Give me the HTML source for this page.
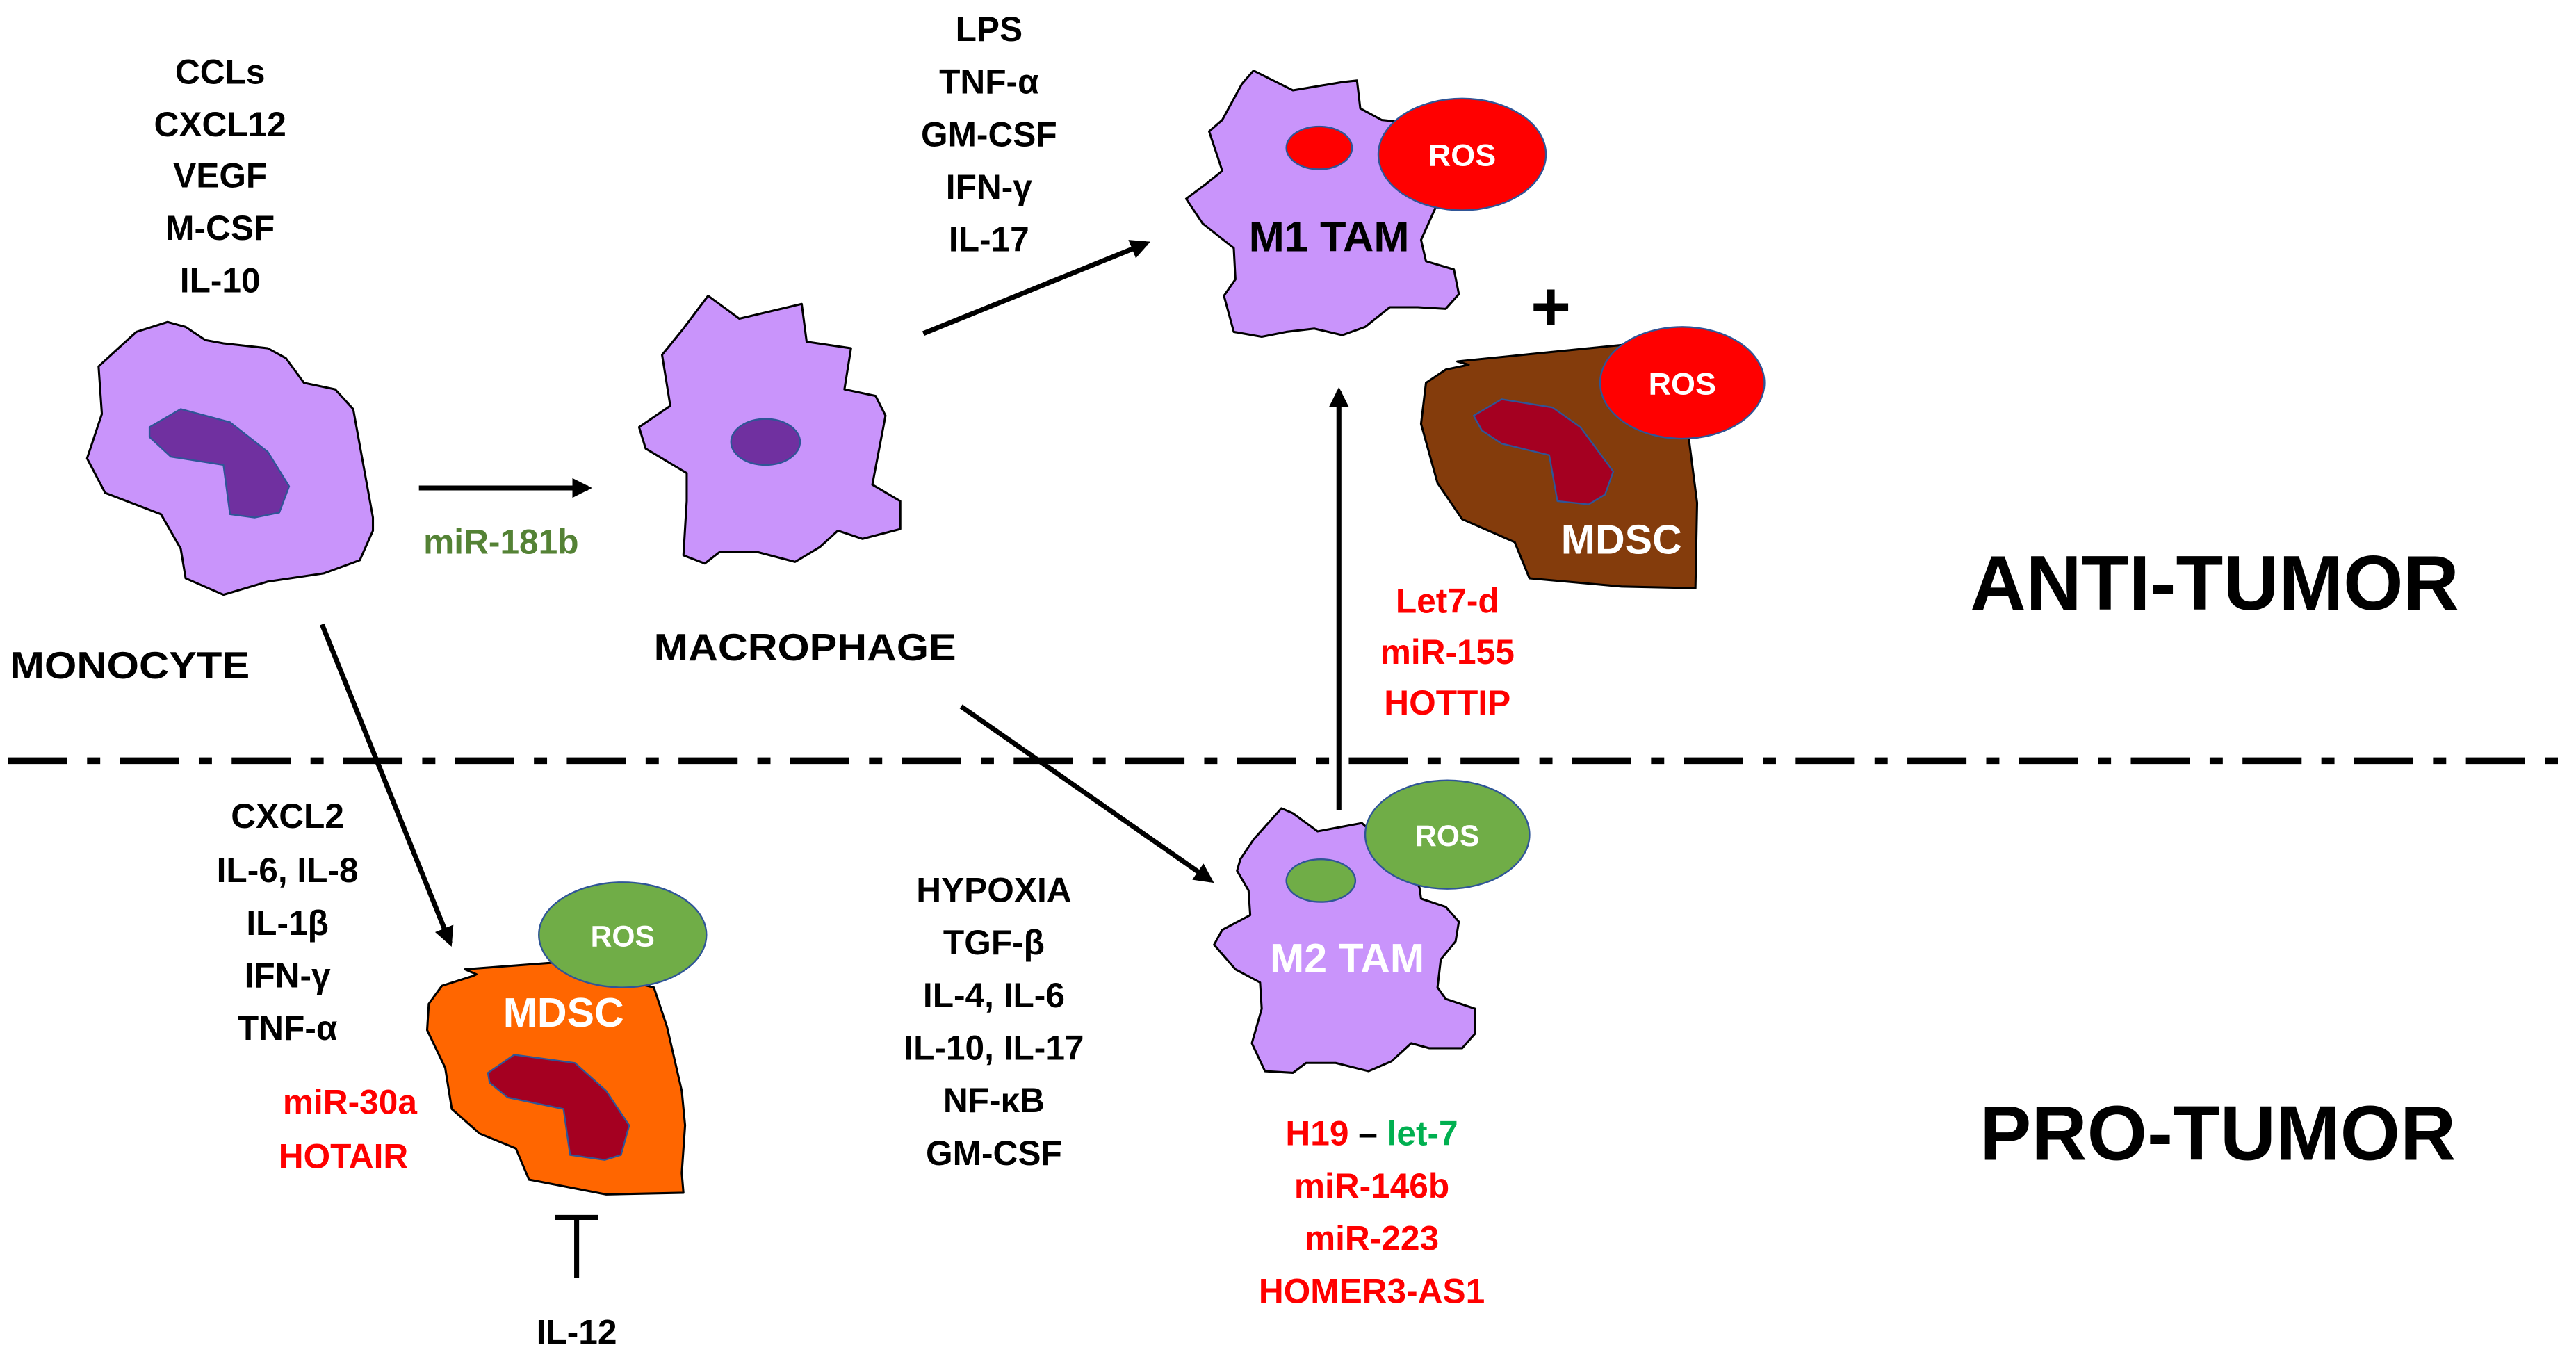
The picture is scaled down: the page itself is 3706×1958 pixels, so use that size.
<!DOCTYPE html>
<html><head><meta charset="utf-8"><style>
html,body{margin:0;padding:0;background:#fff;}
svg{display:block;}
text{font-family:"Liberation Sans",sans-serif;font-weight:bold;text-anchor:middle;}
</style></head><body>
<svg width="3706" height="1958" viewBox="0 0 1568 828.4" preserveAspectRatio="none" xmlns="http://www.w3.org/2000/svg">
<defs><marker id="ah" viewBox="0 0 10 10" refX="8" refY="5" markerWidth="4" markerHeight="4" orient="auto"><path d="M0,0 L10,5 L0,10 z" fill="#000"/></marker></defs>
<rect width="1568" height="829" fill="#fff"/>
<g stroke-linejoin="round">
<!-- Monocyte -->
<path d="M102,196 L113,199 L125,207 L136,209 L163,212 L174,218 L185,233 L204,237 L215,249 L227,315 L227,323 L219,341 L197,349 L163,354 L136,362 L113,352 L110,334 L98,313 L64,300 L53,279 L62,252 L60,223 L83,202 Z" fill="#c994fb" stroke="#000" stroke-width="1.3"/>
<path d="M91,260 L110,249 L140,257 L163,275 L176,296 L170,312 L155,315 L140,313 L136,283 L104,278 L91,266 Z" fill="#7030a0" stroke="#2f5597" stroke-width="1"/>
<!-- Macrophage -->
<path d="M431,180 L450,194 L488,185 L491,208 L518,212 L514,237 L533,241 L539,253 L531,295 L548,305 L548,322 L525,328 L510,323 L499,333 L484,342 L461,336 L438,336 L429,343 L416,338 L418,305 L418,288 L393,273 L389,260 L408,247 L403,216 L416,200 Z" fill="#c994fb" stroke="#000" stroke-width="1.3"/>
<ellipse cx="466" cy="269" rx="21" ry="14" fill="#7030a0" stroke="#2f5597" stroke-width="1"/>
</g>
<!-- Text lists -->
<g font-size="21" fill="#000">
<text x="134" y="51">CCLs</text><text x="134" y="83">CXCL12</text><text x="134" y="114">VEGF</text><text x="134" y="146">M-CSF</text><text x="134" y="178">IL-10</text>
<text x="602" y="25">LPS</text><text x="602" y="57">TNF-α</text><text x="602" y="89">GM-CSF</text><text x="602" y="121">IFN-γ</text><text x="602" y="153">IL-17</text>
<text x="79" y="413" textLength="146" lengthAdjust="spacingAndGlyphs" font-size="23">MONOCYTE</text>
<text x="490" y="402" textLength="184" lengthAdjust="spacingAndGlyphs" font-size="23">MACROPHAGE</text>
<text x="175" y="504">CXCL2</text><text x="175" y="537">IL-6, IL-8</text><text x="175" y="569">IL-1β</text><text x="175" y="601">IFN-γ</text><text x="175" y="633">TNF-α</text>
<text x="605" y="549">HYPOXIA</text><text x="605" y="581">TGF-β</text><text x="605" y="613">IL-4, IL-6</text><text x="605" y="645">IL-10, IL-17</text><text x="605" y="677">NF-κB</text><text x="605" y="709">GM-CSF</text>
<text x="351" y="818">IL-12</text>
</g>
<text x="305" y="337" font-size="21" fill="#548235">miR-181b</text>
<g font-size="21" fill="#ff0000">
<text x="881" y="373">Let7-d</text><text x="881" y="404">miR-155</text><text x="881" y="435">HOTTIP</text>
<text x="213" y="678">miR-30a</text><text x="209" y="711">HOTAIR</text>
<text x="835" y="697"><tspan fill="#ff0000">H19</tspan><tspan fill="#000"> – </tspan><tspan fill="#00b050">let-7</tspan></text>
<text x="835" y="729">miR-146b</text><text x="835" y="761">miR-223</text><text x="835" y="793">HOMER3-AS1</text>
</g>
<text x="1348" y="371" font-size="47">ANTI-TUMOR</text>
<text x="1350" y="706" font-size="47">PRO-TUMOR</text>
<!-- dash-dot line -->
<line x1="5" y1="463" x2="1565" y2="463" stroke="#000" stroke-width="4" stroke-dasharray="36,12,8,12"/>
<!-- Arrows -->
<g stroke="#000" stroke-width="3" fill="none">
<line x1="255" y1="297" x2="358" y2="297" marker-end="url(#ah)"/>
<line x1="562" y1="203" x2="698" y2="148" marker-end="url(#ah)"/>
<line x1="815" y1="493" x2="815" y2="238" marker-end="url(#ah)"/>
<line x1="196" y1="380" x2="274" y2="574" marker-end="url(#ah)"/>
<line x1="585" y1="430" x2="737" y2="536" marker-end="url(#ah)"/>
<line x1="351" y1="740" x2="351" y2="778"/>
<line x1="338" y1="741" x2="364" y2="741"/>
</g>
<g stroke-linejoin="round">
<!-- M1 TAM -->
<path d="M763,43 L787,55 L817,50 L826,49 L828,66 L841,73 L860,75 L874,126 L865,146 L868,159 L885,164 L888,179 L880,188 L863,187 L846,187 L831,199 L817,204 L800,200 L783,202 L768,205 L751,202 L745,180 L752,170 L751,151 L732,136 L722,121 L734,112 L744,104 L741,95 L736,80 L744,73 L756,51 Z" fill="#c994fb" stroke="#000" stroke-width="1.3"/>
<ellipse cx="803" cy="90" rx="20" ry="13" fill="#ff0000" stroke="#2f5597" stroke-width="1"/>
<ellipse cx="890" cy="94" rx="51" ry="34" fill="#ff0000" stroke="#2f5597" stroke-width="1"/>
<text x="890" y="101" font-size="19" fill="#fff">ROS</text>
<text x="809" y="153" font-size="26" fill="#000">M1 TAM</text>
<text x="944" y="201" font-size="42" fill="#000">+</text>
<!-- Brown MDSC -->
<path d="M887,220 L987,210 L1010,215 L1028,267 L1033,306 L1032,358 L987,357 L931,352 L922,330 L890,316 L875,294 L865,258 L868,233 L880,225 L894,222 Z" fill="#843c0c" stroke="#000" stroke-width="1.3"/>
<path d="M897,253 L914,243 L945,248 L962,260 L982,287 L977,301 L967,307 L948,305 L943,277 L914,270 L902,262 Z" fill="#a50021" stroke="#2f5597" stroke-width="1"/>
<ellipse cx="1024" cy="233" rx="50" ry="34" fill="#ff0000" stroke="#2f5597" stroke-width="1"/>
<text x="1024" y="240" font-size="19" fill="#fff">ROS</text>
<text x="987" y="337" font-size="25" fill="#fff">MDSC</text>
<!-- Orange MDSC -->
<path d="M283,590 L336,586 L398,601 L406,625 L415,664 L417,685 L415,714 L416,726 L369,727 L322,718 L314,699 L292,690 L275,675 L271,650 L260,627 L261,611 L269,600 L288,594 L290,593 Z" fill="#ff6600" stroke="#000" stroke-width="1.3"/>
<path d="M297,653 L313,642 L350,647 L369,664 L383,685 L378,703 L368,706 L347,703 L343,675 L309,668 L298,659 Z" fill="#a50021" stroke="#2f5597" stroke-width="1"/>
<ellipse cx="379" cy="569" rx="51" ry="32" fill="#70ad47" stroke="#2f5597" stroke-width="1"/>
<text x="379" y="576" font-size="18" fill="#fff">ROS</text>
<text x="343" y="625" font-size="25" fill="#fff">MDSC</text>
<!-- M2 TAM -->
<path d="M780,492 L787,495 L802,506 L829,501 L850,520 L864,540 L865,547 L880,552 L888,561 L886,573 L877,584 L875,601 L880,608 L898,614 L898,629 L890,638 L870,638 L859,635 L847,646 L833,652 L813,647 L795,647 L787,653 L770,652 L762,635 L768,614 L767,598 L752,590 L739,575 L744,566 L761,557 L760,542 L753,530 L755,523 L763,511 Z" fill="#c994fb" stroke="#000" stroke-width="1.3"/>
<ellipse cx="804" cy="536" rx="21" ry="13" fill="#70ad47" stroke="#2f5597" stroke-width="1"/>
<ellipse cx="881" cy="508" rx="50" ry="33" fill="#70ad47" stroke="#2f5597" stroke-width="1"/>
<text x="881" y="515" font-size="18" fill="#fff">ROS</text>
<text x="820" y="592" font-size="25" fill="#fff">M2 TAM</text>
</g>
</svg>
</body></html>
